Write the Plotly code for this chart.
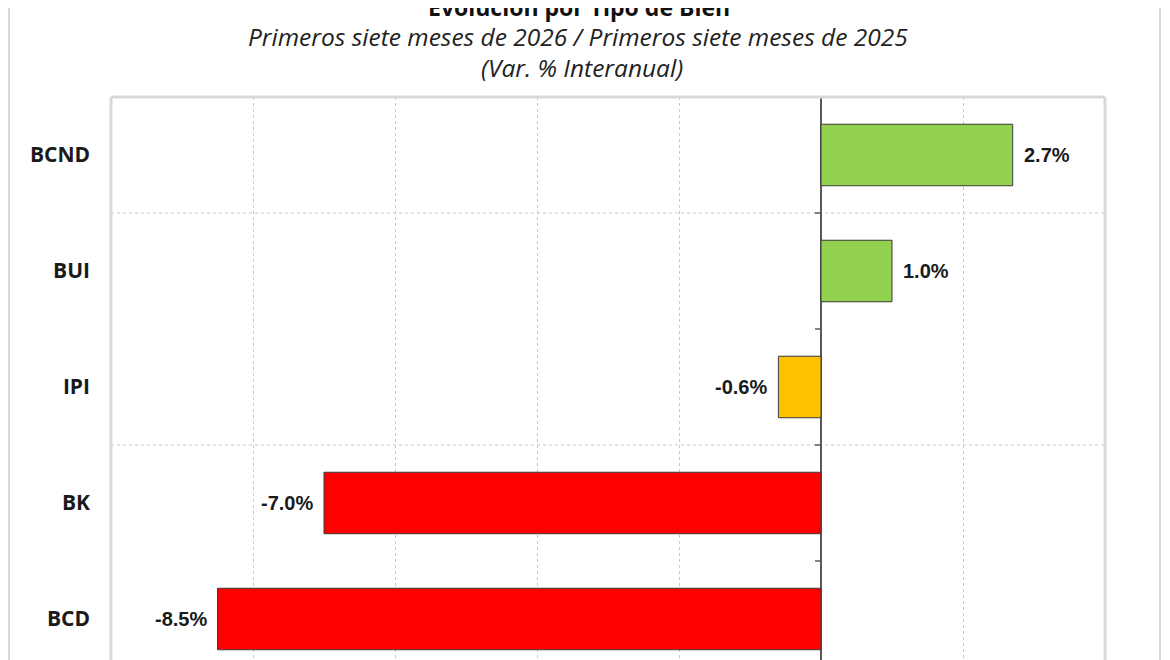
import plotly.graph_objects as go

# categories top to bottom, year-on-year change in %
categories = ["BCND", "BUI", "IPI", "BK", "BCD"]
var_pct = [2.7, 1.0, -0.6, -7.0, -8.5]
value_labels = ["2.7%", "1.0%", "-0.6%", "-7.0%", "-8.5%"]
bar_colors = ["#92D050", "#92D050", "#FFC000", "#FF0000", "#FF0000"]

title_text = "Evolución por Tipo de Bien"
subtitle_1 = "Primeros siete meses de 2026 / Primeros siete meses de 2025"
subtitle_2 = "(Var. % Interanual)"

# page has an 8px body margin, figure sits at (8, 8)
OFF = 8
W, H = 1170 - OFF, 660 - OFF
PL, PR, PT, PB = 111, 1105, 97, 660          # plot area in page pixels
ML, MR, MT, MB = PL - OFF, 1170 - PR, PT - OFF, 0
plot_h = PB - PT
plot_w = PR - PL


def py(page_y):
    return 1 + (PT - page_y) / plot_h


def px(page_x):
    return (page_x - PL) / plot_w


fig = go.Figure()

fig.add_trace(go.Bar(
    y=categories, x=var_pct, orientation="h", width=0.53,
    marker=dict(color=bar_colors, line=dict(color="#3a3a3a", width=1)),
    showlegend=False, hoverinfo="skip",
))

# value labels next to the bar ends
for cat, v, lab in zip(categories, var_pct, value_labels):
    fig.add_annotation(
        x=v, y=cat, text=lab, showarrow=False,
        xanchor="left" if v > 0 else "right",
        xshift=9 if v > 0 else -9,
        font=dict(family="Liberation Sans, Arial", size=20, color="#1a1a1a", weight="bold"),
    )

# titles (main title is cropped at the top edge, as in the source image)
fig.add_annotation(x=px(579), y=py(7), xref="paper", yref="paper", text=title_text,
                   showarrow=False, yanchor="middle",
                   font=dict(family="Open Sans", size=23, color="#111111", weight="bold"))
fig.add_annotation(x=px(578), y=py(37), xref="paper", yref="paper", text=subtitle_1,
                   showarrow=False, yanchor="middle",
                   font=dict(family="Open Sans", size=24.5, color="#222222", style="italic"))
fig.add_annotation(x=px(582), y=py(68), xref="paper", yref="paper", text=subtitle_2,
                   showarrow=False, yanchor="middle",
                   font=dict(family="Open Sans", size=24.5, color="#222222", style="italic"))

shapes = []
# dashed horizontal gridlines between some categories
for yb in [0.5, 2.5]:
    shapes.append(dict(type="line", xref="paper", yref="y", x0=0, x1=1, y0=yb, y1=yb,
                       line=dict(color="#c8c8c8", width=1, dash="3px,3px"), layer="below"))
# small ticks on the zero axis
for yb in [-0.5, 0.5, 1.5, 2.5, 3.5]:
    shapes.append(dict(type="line", xref="x", yref="y", xsizemode="pixel", xanchor=0,
                       x0=-6, x1=0, y0=yb, y1=yb, line=dict(color="#595959", width=1.5)))
# plot area border (light grey)
border = dict(color="#d9d9d9", width=3)
shapes.append(dict(type="line", xref="paper", yref="paper", x0=0, x1=1, y0=1, y1=1, line=border))
shapes.append(dict(type="line", xref="paper", yref="paper", x0=0, x1=0, y0=0, y1=1, line=border))
shapes.append(dict(type="line", xref="paper", yref="paper", x0=1, x1=1, y0=0, y1=1, line=border))
# outer chart frame
frame = dict(color="#cccccc", width=1.5)
for xf in [px(9), px(1160)]:
    shapes.append(dict(type="line", xref="paper", yref="paper", x0=xf, x1=xf,
                       y0=0, y1=py(OFF), line=frame))

fig.update_layout(
    width=W, height=H,
    margin=dict(l=ML, r=MR, t=MT, b=MB),
    paper_bgcolor="white", plot_bgcolor="white",
    shapes=shapes,
)

fig.update_xaxes(
    range=[-10, 4], tick0=0, dtick=2,
    showgrid=True, gridcolor="#c8c8c8", gridwidth=1, griddash="3px,3px",
    zeroline=True, zerolinecolor="#595959", zerolinewidth=2,
    showticklabels=False, showline=False, ticks="",
)
fig.update_yaxes(
    categoryorder="array", categoryarray=categories,
    range=[4 + (PB - 619) / 116, -0.5],
    showgrid=False, zeroline=False, showline=False, ticks="",
    ticklabelstandoff=20,
    tickfont=dict(family="Open Sans", size=21, color="#1a1a1a", weight="bold"),
)

fig.write_html("out.html")
